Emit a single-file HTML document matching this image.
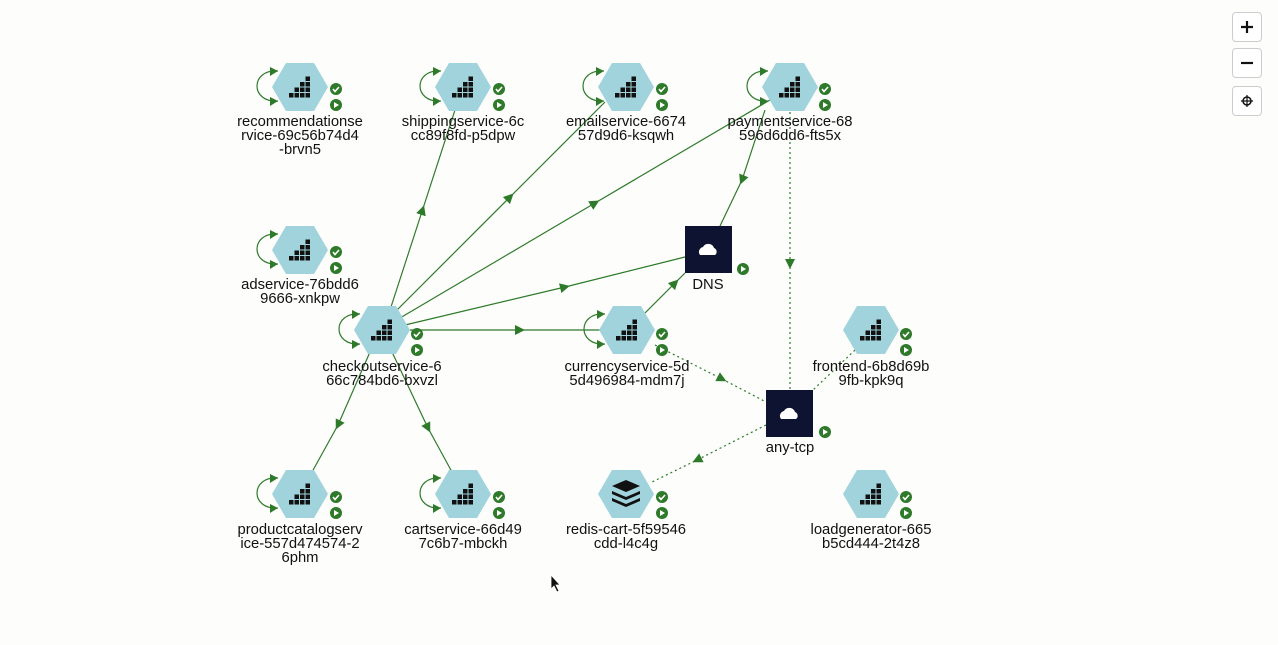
<!DOCTYPE html>
<html><head><meta charset="utf-8"><style>
html,body{margin:0;padding:0;background:#fdfdfc;width:1278px;height:645px;overflow:hidden}
svg{display:block}
text{font-family:"Liberation Sans",sans-serif;font-size:14.8px;fill:#111;text-anchor:middle}
.btn{position:absolute;left:1232px;width:30px;height:30px;border:1px solid #ccc;border-radius:4px;background:#fff;box-sizing:border-box}
</style></head><body>
<svg width="1278" height="645" viewBox="0 0 1278 645">
<defs>
<marker id="a" viewBox="0 0 10 10" refX="5" refY="5" markerWidth="10" markerHeight="10" markerUnits="userSpaceOnUse" orient="auto"><path d="M0,0 L10,5 L0,10 z" fill="#2e7a2a"/></marker>
<g id="hex"><polygon points="-28,0 -14,-24 14,-24 28,0 14,24 -14,24" fill="#a0d3dc"/>
<g fill="#111"><rect x="-11" y="6" width="4.5" height="4.5"/><rect x="-5.5" y="6" width="4.5" height="4.5"/><rect x="0" y="6" width="4.5" height="4.5"/><rect x="5.5" y="6" width="4.5" height="4.5"/>
<rect x="-5.5" y="0.5" width="4.5" height="4.5"/><rect x="0" y="0.5" width="4.5" height="4.5"/><rect x="5.5" y="0.5" width="4.5" height="4.5"/><rect x="0" y="-5" width="4.5" height="4.5"/><rect x="5.5" y="-5" width="4.5" height="4.5"/><rect x="5.5" y="-10.5" width="4.5" height="4.5"/></g></g>
<g id="st"><circle cx="0" cy="0" r="6" fill="#2e7a2a"/><path d="M-3,0 L-1,2.5 L3,-2" stroke="#fff" stroke-width="1.6" fill="none"/>
<circle cx="0" cy="16" r="6" fill="#2e7a2a"/><path d="M-2,13 L3,16 L-2,19z" fill="#fff"/></g>
<g id="loop"><path d="M-22,-16 C-50,-18 -50,16 -22,14" fill="none" stroke="#2e7a2a" stroke-width="1.2"/><path d="M-30,-20 L-22,-16 L-30,-11z" fill="#2e7a2a"/><path d="M-30,10 L-22,14 L-30,19z" fill="#2e7a2a"/></g>
</defs>
<g stroke="#2e7a2a" stroke-width="1.2" fill="none">
<polyline points="390,310 422.5,210 455,110" marker-mid="url(#a)"/>
<polyline points="395,312 510,197 605,102" marker-mid="url(#a)"/>
<polyline points="400,318 595,203 770,100" marker-mid="url(#a)"/>
<polyline points="405,325 565,287 685,257" marker-mid="url(#a)"/>
<polyline points="410,330 520,330 600,330" marker-mid="url(#a)"/>
<polyline points="370,352 338,425 312,472" marker-mid="url(#a)"/>
<polyline points="392,352 428,428 452,472" marker-mid="url(#a)"/>
<polyline points="765,110 742,180 720,226" marker-mid="url(#a)"/>
<polyline points="645,313 675,283 685,273" marker-mid="url(#a)"/>
<g stroke-dasharray="2,3">
<polyline points="790,112 790,264 790,390" marker-mid="url(#a)"/>
<polyline points="655,345 722,379 766,402" marker-mid="url(#a)"/>
<polyline points="855,350 813,390"/>
<polyline points="766,425 697,460 650,483" marker-mid="url(#a)"/>
</g></g>
<use href="#loop" x="300" y="87"/><use href="#hex" x="300" y="87"/><use href="#st" x="336" y="89"/>
<use href="#loop" x="463" y="87"/><use href="#hex" x="463" y="87"/><use href="#st" x="499" y="89"/>
<use href="#loop" x="626" y="87"/><use href="#hex" x="626" y="87"/><use href="#st" x="662" y="89"/>
<use href="#loop" x="790" y="87"/><use href="#hex" x="790" y="87"/><use href="#st" x="825" y="89"/>
<use href="#loop" x="300" y="250"/><use href="#hex" x="300" y="250"/><use href="#st" x="336" y="252"/>
<use href="#loop" x="382" y="330"/><use href="#hex" x="382" y="330"/><use href="#st" x="417" y="334"/>
<use href="#loop" x="627" y="330"/><use href="#hex" x="627" y="330"/><use href="#st" x="662" y="334"/>
<use href="#hex" x="871" y="330"/><use href="#st" x="906" y="334"/>
<use href="#loop" x="300" y="494"/><use href="#hex" x="300" y="494"/><use href="#st" x="336" y="497"/>
<use href="#loop" x="463" y="494"/><use href="#hex" x="463" y="494"/><use href="#st" x="499" y="497"/>
<polygon points="598,494 612,470 640,470 654,494 640,518 612,518" fill="#a0d3dc"/>
<g fill="#111"><path d="M612,486 L626,480 L640,486 L626,492z"/><path d="M612,491 L626,497 L640,491 L640,494 L626,500 L612,494z"/><path d="M612,498 L626,504 L640,498 L640,501 L626,507 L612,501z"/></g>
<use href="#st" x="662" y="497"/>
<use href="#hex" x="871" y="494"/><use href="#st" x="906" y="497"/>
<rect x="685" y="226" width="47" height="47" fill="#0d1330"/><path d="M700,255 a5,5 0 0 1 3,-8 a6,6 0 0 1 11,1 a4,4 0 0 1 1,7z" fill="#fff"/>
<circle cx="743" cy="269" r="6" fill="#2e7a2a"/><path d="M741,266 L746,269 L741,272z" fill="#fff"/>
<rect x="766" y="390" width="47" height="47" fill="#0d1330"/><path d="M781,419 a5,5 0 0 1 3,-8 a6,6 0 0 1 11,1 a4,4 0 0 1 1,7z" fill="#fff"/>
<circle cx="825" cy="432" r="6" fill="#2e7a2a"/><path d="M823,429 L828,432 L823,435z" fill="#fff"/>
<text x="300" y="126">recommendationse</text><text x="300" y="140">rvice-69c56b74d4</text><text x="300" y="154">-brvn5</text>
<text x="463" y="126">shippingservice-6c</text><text x="463" y="140">cc89f8fd-p5dpw</text>
<text x="626" y="126">emailservice-6674</text><text x="626" y="140">57d9d6-ksqwh</text>
<text x="790" y="126">paymentservice-68</text><text x="790" y="140">596d6dd6-fts5x</text>
<text x="300" y="289">adservice-76bdd6</text><text x="300" y="303">9666-xnkpw</text>
<text x="708" y="289">DNS</text>
<text x="382" y="371">checkoutservice-6</text><text x="382" y="385">66c784bd6-bxvzl</text>
<text x="627" y="371">currencyservice-5d</text><text x="627" y="385">5d496984-mdm7j</text>
<text x="871" y="371">frontend-6b8d69b</text><text x="871" y="385">9fb-kpk9q</text>
<text x="790" y="452">any-tcp</text>
<text x="300" y="534">productcatalogserv</text><text x="300" y="548">ice-557d474574-2</text><text x="300" y="562">6phm</text>
<text x="463" y="534">cartservice-66d49</text><text x="463" y="548">7c6b7-mbckh</text>
<text x="626" y="534">redis-cart-5f59546</text><text x="626" y="548">cdd-l4c4g</text>
<text x="871" y="534">loadgenerator-665</text><text x="871" y="548">b5cd444-2t4z8</text>
<path d="M551,575 L551,589 L554,586 L557,592 L559,591 L556,585 L560,585z" fill="#111" stroke="#fff" stroke-width="0.8"/>
</svg>
<div class="btn" style="top:12px"><svg width="28" height="28"><path d="M14,8 V20 M8,14 H20" stroke="#111" stroke-width="2.2"/></svg></div>
<div class="btn" style="top:48px"><svg width="28" height="28"><path d="M8,14 H20" stroke="#111" stroke-width="2.2"/></svg></div>
<div class="btn" style="top:86px"><svg width="28" height="28"><circle cx="14" cy="14" r="4" fill="none" stroke="#111" stroke-width="1.5"/><path d="M14,8 V20 M8,14 H20" stroke="#111" stroke-width="1.2"/></svg></div>
</body></html>
